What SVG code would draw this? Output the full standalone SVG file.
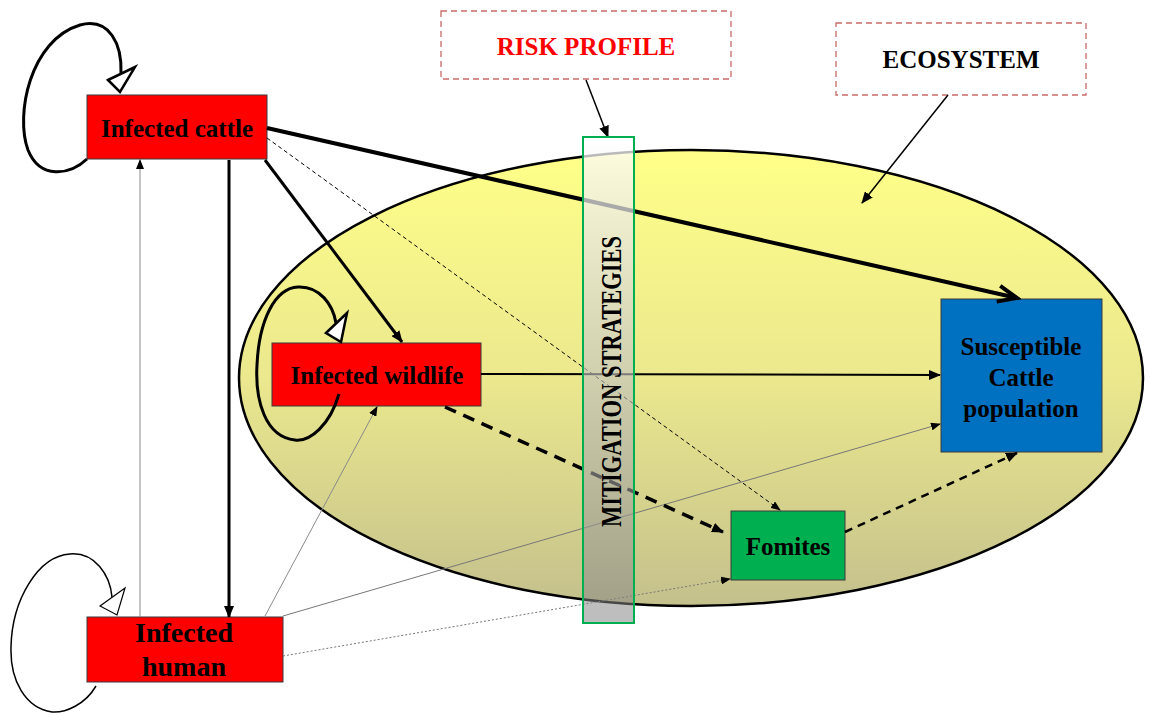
<svg xmlns="http://www.w3.org/2000/svg" width="1151" height="713" viewBox="0 0 1151 713">
<defs>
<linearGradient id="ecoGrad" x1="0" y1="0" x2="0" y2="1">
<stop offset="0" stop-color="#FFFF88"/>
<stop offset="0.5" stop-color="#EBE88E"/>
<stop offset="1" stop-color="#C4C08C"/>
</linearGradient>
<linearGradient id="stripGrad" x1="0" y1="0" x2="0" y2="1">
<stop offset="0" stop-color="#FFFFFF" stop-opacity="0.75"/>
<stop offset="1" stop-color="#808080" stop-opacity="0.52"/>
</linearGradient>
<marker id="arrF" viewBox="0 0 12 10" refX="11" refY="5" markerWidth="12" markerHeight="10" markerUnits="userSpaceOnUse" orient="auto">
<path d="M0,0 L12,5 L0,10 z" fill="#000"/>
</marker>
<marker id="arrS" viewBox="0 0 10 8" refX="9" refY="4" markerWidth="10" markerHeight="8" markerUnits="userSpaceOnUse" orient="auto">
<path d="M0,0 L10,4 L0,8 z" fill="#000"/>
</marker>
<marker id="arrV" viewBox="0 0 26 22" refX="22" refY="11" markerWidth="26" markerHeight="22" markerUnits="userSpaceOnUse" orient="auto">
<path d="M3,3 L22,11 L3,19" fill="none" stroke="#000" stroke-width="4" stroke-linejoin="miter"/>
</marker>
</defs>
<style>
.node rect { stroke: #3a3a3a; stroke-width: 1; }
.lbl { font-family: "Liberation Serif", "Times New Roman", serif; font-weight: bold; font-size: 25px; fill: #000; text-anchor: middle; }
.box { fill: #fff; stroke: #C0504D; stroke-opacity: 0.85; stroke-width: 1.3; stroke-dasharray: 6 4; }
.loop { fill: none; stroke: #000; }
.head { fill: #fff; stroke: #000; }
</style>

<g id="ecosystem-ellipse">
<ellipse cx="691" cy="378" rx="452" ry="228" fill="url(#ecoGrad)" stroke="#000" stroke-width="2.5"/>
</g>

<g id="risk-profile">
<rect class="box" x="441" y="11" width="290" height="68"/>
<text class="lbl" x="586" y="55" style="fill:#FF0000">RISK PROFILE</text>
</g>

<g id="ecosystem-label">
<rect class="box" x="836" y="23" width="250" height="72"/>
<text class="lbl" x="961" y="68">ECOSYSTEM</text>
</g>

<g id="infected-cattle" class="node">
<rect x="87" y="95" width="180" height="64" fill="#FF0000"/>
<text class="lbl" x="177" y="137">Infected cattle</text>
</g>

<g id="infected-wildlife" class="node">
<rect x="272" y="343" width="209" height="63" fill="#FF0000"/>
<text class="lbl" x="377" y="384">Infected wildlife</text>
</g>

<g id="infected-human" class="node">
<rect x="87" y="617" width="196" height="65" fill="#FF0000"/>
<text class="lbl" x="184" y="642" style="font-size:28px">Infected</text>
<text class="lbl" x="184" y="676" style="font-size:28px">human</text>
</g>

<g id="susceptible-cattle" class="node">
<rect x="941" y="299" width="161" height="153" fill="#0070C0"/>
<text class="lbl" x="1021" y="355">Susceptible</text>
<text class="lbl" x="1021" y="386">Cattle</text>
<text class="lbl" x="1021" y="417">population</text>
</g>

<g id="fomites" class="node">
<rect x="731" y="511" width="114" height="69" fill="#00B050"/>
<text class="lbl" x="788" y="555">Fomites</text>
</g>

<g id="connectors">
<line x1="267" y1="128" x2="1017" y2="298" stroke="#000" stroke-width="4" marker-end="url(#arrV)"/>
<line x1="265" y1="160" x2="402" y2="342" stroke="#000" stroke-width="3" marker-end="url(#arrF)"/>
<line x1="229" y1="160" x2="229" y2="617" stroke="#000" stroke-width="3" marker-end="url(#arrF)"/>
<line x1="267" y1="138" x2="780" y2="510" stroke="#000" stroke-width="1" stroke-dasharray="4 3" marker-end="url(#arrS)"/>
<line x1="140" y1="617" x2="140" y2="160" stroke="#8a8a8a" stroke-width="1" marker-end="url(#arrS)"/>
<line x1="265" y1="616" x2="377" y2="407" stroke="#8a8a8a" stroke-width="1" marker-end="url(#arrS)"/>
<line x1="283" y1="616" x2="940" y2="424" stroke="#777" stroke-width="1" marker-end="url(#arrS)"/>
<line x1="283" y1="656" x2="730" y2="579" stroke="#777" stroke-width="1" stroke-dasharray="2 2" marker-end="url(#arrS)"/>
<line x1="481" y1="374" x2="940" y2="375" stroke="#000" stroke-width="2" marker-end="url(#arrF)"/>
<line x1="445" y1="407" x2="723" y2="532" stroke="#000" stroke-width="3.5" stroke-dasharray="12 8" marker-end="url(#arrF)"/>
<line x1="845" y1="532" x2="1017" y2="453" stroke="#000" stroke-width="2.5" stroke-dasharray="8 6" marker-end="url(#arrF)"/>
<line x1="586" y1="80" x2="608" y2="137" stroke="#000" stroke-width="1.5" marker-end="url(#arrF)"/>
<line x1="948" y1="95" x2="862" y2="203" stroke="#000" stroke-width="1.5" marker-end="url(#arrF)"/>
<path class="loop" stroke-width="3" d="M87,159 C70,175 40,180 28,150 C15,115 30,40 80,25 C110,17 122,45 121,73"/>
<polygon class="head" stroke-width="2.5" points="108,80 135,67 120,92"/>
<path class="loop" stroke-width="3" d="M339,394 C330,425 310,442 295,440 C265,437 255,400 257,365 C259,320 275,288 298,287 C320,286 333,305 336,323"/>
<polygon class="head" stroke-width="2.5" points="326,333 347,313 341,342"/>
<path class="loop" stroke-width="1.5" d="M96,686 C85,705 65,713 52,712 C25,708 10,680 11,647 C12,600 38,556 70,554 C95,552 110,575 112,597"/>
<polygon class="head" stroke-width="1.2" points="100,606 125,588 117,615"/>
</g>

<g id="mitigation-strategies">
<rect x="583" y="137" width="51" height="486" fill="url(#stripGrad)" stroke="#00B050" stroke-width="2"/>
<text class="lbl" transform="translate(621,381.5) rotate(-90)" style="font-size:30px" textLength="291" lengthAdjust="spacingAndGlyphs">MITIGATION STRATEGIES</text>
</g>
</svg>
